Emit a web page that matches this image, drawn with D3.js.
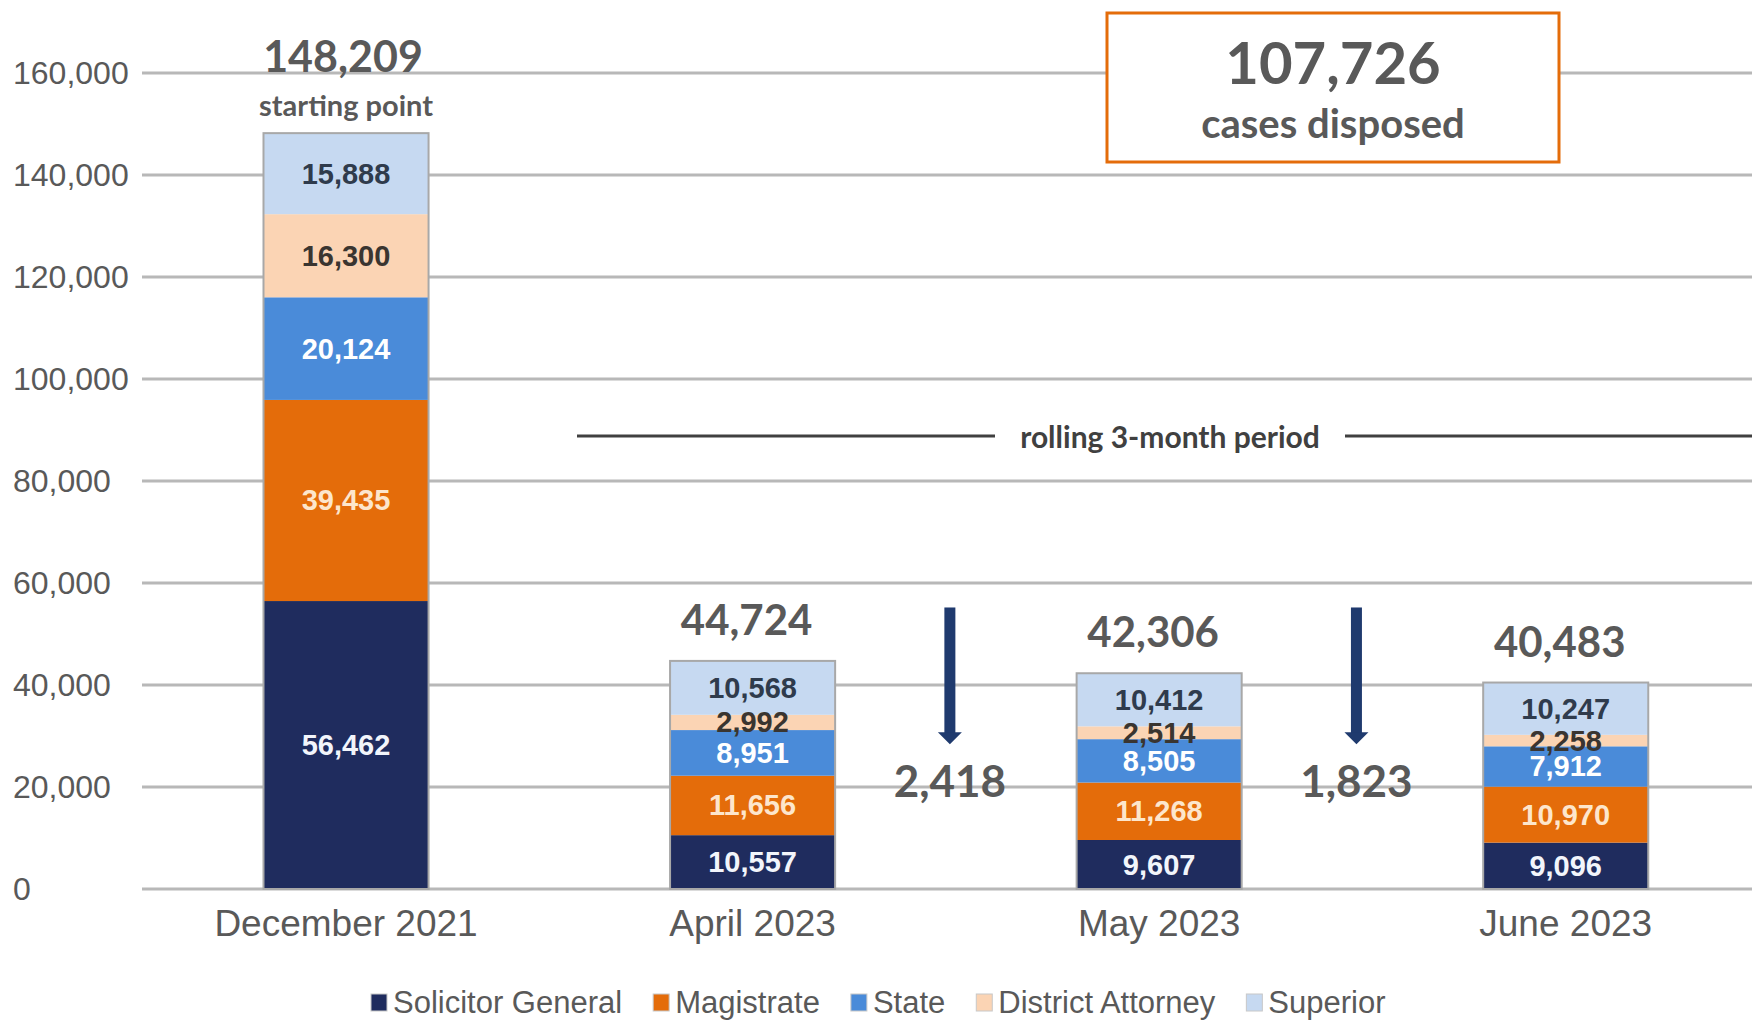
<!DOCTYPE html>
<html>
<head>
<meta charset="utf-8">
<script src="https://cdn.jsdelivr.net/npm/d3@7"></script>
<style>
  body { margin: 0; background: #fff; }
  svg { display: block; }
  .tick-label { font-family: "Liberation Sans", Arial, sans-serif; fill: #595959; }
  .callout { font-family: Lato, "Open Sans", sans-serif; font-weight: 700; fill: #595959; }
</style>
</head>
<body>
<svg id="chart" width="1752" height="1021"></svg>
<script>

const months = ["December 2021", "April 2023", "May 2023", "June 2023"];
const seriesNames = ["Solicitor General", "Magistrate", "State", "District Attorney", "Superior"];
const solicitorGeneral = [56462, 10557, 9607, 9096];
const magistrate = [39435, 11656, 11268, 10970];
const stateCourt = [20124, 8951, 8505, 7912];
const districtAttorney = [16300, 2992, 2514, 2258];
const superior = [15888, 10568, 10412, 10247];
const yTicks = [0, 20000, 40000, 60000, 80000, 100000, 120000, 140000, 160000];

const colors = ["#1f2c5e", "#e46c0a", "#4a8bd9", "#fbd4b4", "#c6d9f1"];
const labelColors = ["#f2f5fb", "#fde6cc", "#ffffff", "#3a3530", "#2f3b4c"];

const fmt = d3.format(",");

const data = months.map((m, i) => ({
    month: m,
    "Solicitor General": solicitorGeneral[i],
    "Magistrate": magistrate[i],
    "State": stateCourt[i],
    "District Attorney": districtAttorney[i],
    "Superior": superior[i]
}));
data.forEach(d => d.total = d3.sum(seriesNames, k => d[k]));

const svg = d3.select("#chart");

const xScale = d3.scaleBand()
    .domain(months)
    .range([142.75, 1769])
    .paddingInner(0.594)
    .paddingOuter(0.297);

const yScale = d3.scaleLinear()
    .domain([0, 160000])
    .range([889, 73]);

const stack = d3.stack().keys(seriesNames)(data);

// gridlines + y labels
svg.append("g").selectAll("line")
    .data(yTicks)
    .join("line")
    .attr("x1", 142)
    .attr("x2", 1752)
    .attr("y1", d => yScale(d))
    .attr("y2", d => yScale(d))
    .attr("stroke", "#b8b8b8")
    .attr("stroke-width", 3);

svg.append("g").selectAll("text")
    .data(yTicks)
    .join("text")
    .attr("class", "tick-label")
    .attr("x", 13)
    .attr("y", d => yScale(d))
    .attr("dominant-baseline", "central")
    .style("font-size", "32px")
    .text(d => fmt(d));

// bars
const layers = svg.append("g").selectAll("g")
    .data(stack)
    .join("g")
    .attr("fill", (d, i) => colors[i]);

layers.selectAll("rect")
    .data(d => d)
    .join("rect")
    .attr("x", d => xScale(d.data.month))
    .attr("y", d => yScale(d[1]))
    .attr("width", xScale.bandwidth())
    .attr("height", d => yScale(d[0]) - yScale(d[1]));

// outline round each stack
svg.append("g").selectAll("rect")
    .data(data)
    .join("rect")
    .attr("x", d => xScale(d.month))
    .attr("y", d => yScale(d.total))
    .attr("width", xScale.bandwidth())
    .attr("height", d => yScale(0) - yScale(d.total))
    .attr("fill", "none")
    .attr("stroke", "#a8a8a8")
    .attr("stroke-width", 2);

// segment labels
stack.forEach((layer, i) => {
    svg.append("g").selectAll("text")
        .data(layer)
        .join("text")
        .attr("x", d => xScale(d.data.month) + xScale.bandwidth() / 2)
        .attr("y", d => (yScale(d[0]) + yScale(d[1])) / 2)
        .attr("text-anchor", "middle")
        .attr("dominant-baseline", "central")
        .style("font-family", "'Liberation Sans', Arial, sans-serif")
        .style("font-weight", "700")
        .style("font-size", "29px")
        .attr("fill", labelColors[i])
        .text(d => fmt(d[1] - d[0]));
});

// totals above bars
svg.append("g").selectAll("text")
    .data(data)
    .join("text")
    .attr("class", "callout")
    .attr("x", (d, i) => xScale(d.month) + xScale.bandwidth() / 2 - (i === 0 ? 3 : 6))
    .attr("y", (d, i) => yScale(d.total) - (i === 0 ? 61 : 26))
    .attr("text-anchor", "middle")
    .style("font-size", (d, i) => i === 0 ? "43px" : "42px")
    .text(d => fmt(d.total));

svg.append("text")
    .attr("class", "callout")
    .attr("x", xScale(months[0]) + xScale.bandwidth() / 2)
    .attr("y", yScale(data[0].total) - 17)
    .attr("text-anchor", "middle")
    .style("font-size", "29px")
    .text("starting point");

// month-to-month drop arrows (rolling months only)
const drops = d3.pairs(data.slice(1)).map(([a, b]) => ({
    x: (xScale(a.month) + xScale(b.month)) / 2 + xScale.bandwidth() / 2 - 6,
    value: a.total - b.total
}));

const arrowTop = yScale(55200), arrowTip = yScale(28400);
const arrows = svg.append("g").selectAll("g")
    .data(drops)
    .join("g");

arrows.append("rect")
    .attr("x", d => d.x - 5.5)
    .attr("y", arrowTop)
    .attr("width", 11)
    .attr("height", arrowTip - arrowTop - 10)
    .attr("fill", "#1f3a6e");

arrows.append("path")
    .attr("d", d => `M${d.x - 12},${arrowTip - 12}L${d.x + 12},${arrowTip - 12}L${d.x},${arrowTip}Z`)
    .attr("fill", "#1f3a6e");

arrows.append("text")
    .attr("class", "callout")
    .attr("x", d => d.x)
    .attr("y", yScale(18000))
    .attr("text-anchor", "middle")
    .style("font-size", "44px")
    .text(d => fmt(d.value));

// rolling 3-month period marker
const rollY = yScale(88800);
svg.append("line")
    .attr("x1", 577).attr("x2", 995)
    .attr("y1", rollY).attr("y2", rollY)
    .attr("stroke", "#404040").attr("stroke-width", 3);
svg.append("line")
    .attr("x1", 1345).attr("x2", 1752)
    .attr("y1", rollY).attr("y2", rollY)
    .attr("stroke", "#404040").attr("stroke-width", 3);
svg.append("text")
    .attr("class", "callout")
    .attr("x", 1170)
    .attr("y", rollY)
    .attr("dominant-baseline", "central")
    .attr("text-anchor", "middle")
    .style("font-size", "30px")
    .style("fill", "#404040")
    .text("rolling 3-month period");

// disposed box
const disposed = data[0].total - data[data.length - 1].total;
svg.append("rect")
    .attr("x", 1107).attr("y", 13)
    .attr("width", 452).attr("height", 149)
    .attr("fill", "#fff")
    .attr("stroke", "#e46c0a")
    .attr("stroke-width", 3);
svg.append("text")
    .attr("class", "callout")
    .attr("x", 1333).attr("y", 84)
    .attr("text-anchor", "middle")
    .style("font-size", "58px")
    .text(fmt(disposed));
svg.append("text")
    .attr("class", "callout")
    .attr("x", 1333).attr("y", 138)
    .attr("text-anchor", "middle")
    .style("font-size", "40px")
    .text("cases disposed");

// x labels
svg.append("g").selectAll("text")
    .data(months)
    .join("text")
    .attr("class", "tick-label")
    .attr("x", d => xScale(d) + xScale.bandwidth() / 2)
    .attr("y", 936)
    .attr("text-anchor", "middle")
    .style("font-size", "37px")
    .text(d => d);

// legend
const legend = svg.append("g");
let lx = 371;
seriesNames.forEach((name, i) => {
    legend.append("rect")
        .attr("x", lx).attr("y", 994)
        .attr("width", 16).attr("height", 17)
        .attr("fill", colors[i])
        .attr("stroke", "#c8c8c8")
        .attr("stroke-width", 1);
    const t = legend.append("text")
        .attr("class", "tick-label")
        .attr("x", lx + 22)
        .attr("y", 1002)
        .attr("dominant-baseline", "central")
        .style("font-size", "31px")
        .text(name);
    lx += 22 + t.node().getComputedTextLength() + 31;
});
</script>
</body>
</html>
